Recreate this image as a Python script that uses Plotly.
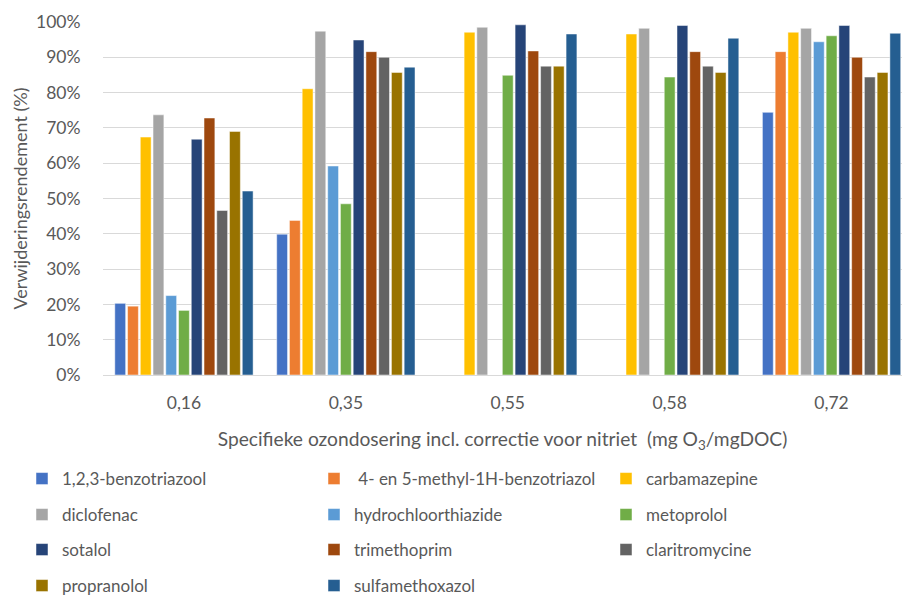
import plotly.graph_objects as go

# Ozone dose categories (mg O3 / mg DOC, nitrite corrected)
doses = ["0,16", "0,35", "0,55", "0,58", "0,72"]

# Removal efficiency per compound (fraction), None = not measured
benzotriazool = [0.203, 0.399, None, None, 0.744]
methylbenzotriazol = [0.195, 0.438, None, None, 0.916]
carbamazepine = [0.674, 0.811, 0.971, 0.966, 0.971]
diclofenac = [0.737, 0.974, 0.985, 0.982, 0.982]
hydrochloorthiazide = [0.225, 0.592, None, None, 0.944]
metoprolol = [0.183, 0.485, 0.849, 0.844, 0.961]
sotalol = [0.668, 0.949, 0.992, 0.990, 0.990]
trimethoprim = [0.728, 0.916, 0.918, 0.916, 0.900]
claritromycine = [0.466, 0.900, 0.875, 0.875, 0.844]
propranolol = [0.690, 0.857, 0.875, 0.857, 0.857]
sulfamethoxazol = [0.521, 0.872, 0.966, 0.954, 0.968]

series = [
    ("1,2,3-benzotriazool", benzotriazool, "#4472C4"),
    (" 4- en 5-methyl-1H-benzotriazol", methylbenzotriazol, "#ED7D31"),
    ("carbamazepine", carbamazepine, "#FFC000"),
    ("diclofenac", diclofenac, "#A5A5A5"),
    ("hydrochloorthiazide", hydrochloorthiazide, "#5B9BD5"),
    ("metoprolol", metoprolol, "#70AD47"),
    ("sotalol", sotalol, "#264478"),
    ("trimethoprim", trimethoprim, "#9E480E"),
    ("claritromycine", claritromycine, "#636363"),
    ("propranolol", propranolol, "#997300"),
    ("sulfamethoxazol", sulfamethoxazol, "#255E91"),
]

FONT = "Lato, Open Sans, sans-serif"
TXT = "#595959"
W, H = 902, 595
L, R, T, B = 103, 0, 22, 220
PW, PH = W - L - R, H - T - B
BOTTOM = H - B

fig = go.Figure()
legends = ["legend", "legend2", "legend3", "legend4"]
for i, (name, vals, color) in enumerate(series):
    fig.add_trace(go.Bar(
        x=doses, y=vals, name=name,
        marker=dict(color=color, line=dict(color="rgba(255,255,255,0.6)", width=0.8)),
        legend=legends[i // 3],
    ))

# one horizontal legend per row, three entries each
legend_rows_px = [479, 515, 550, 586]
legend_common = dict(
    orientation="h", xref="paper", yref="paper",
    xanchor="left", yanchor="middle", x=(22 - L) / PW,
    entrywidth=247, entrywidthmode="pixels",
    font=dict(family=FONT, size=17, color=TXT),
    bgcolor="rgba(0,0,0,0)", itemwidth=30, traceorder="normal",
)
legend_layout = {}
for key, py in zip(legends, legend_rows_px):
    legend_layout[key] = dict(legend_common, y=-(py - BOTTOM) / PH)

fig.update_layout(
    width=W, height=H,
    margin=dict(l=L, r=R, t=T, b=B, autoexpand=False),
    paper_bgcolor="white", plot_bgcolor="white",
    barmode="group", bargap=0.134, bargroupgap=0.15,
    font=dict(family=FONT, color=TXT, size=17),
    xaxis=dict(
        type="category", range=[-0.5, 4.435],
        tickfont=dict(family=FONT, size=17.5, color=TXT),
        showgrid=False, showline=True, linecolor="#D9D9D9", linewidth=1,
        ticks="", ticklabelstandoff=12,
        title=dict(
            text="Specifieke ozondosering incl. correctie voor nitriet  (mg O<sub>3</sub>/mgDOC)",
            font=dict(family=FONT, size=19.2, color=TXT), standoff=20,
        ),
    ),
    yaxis=dict(
        range=[0, 1.0], dtick=0.1, tickformat=".0%",
        tickfont=dict(family=FONT, size=17.5, color=TXT),
        showgrid=True, gridcolor="#D9D9D9", gridwidth=1,
        zeroline=False, showline=False, ticks="outside", ticklen=14,
        tickcolor="rgba(0,0,0,0)", ticklabelstandoff=4,
        title=dict(text="Verwijderingsrendement (%)",
                   font=dict(family=FONT, size=18, color=TXT), standoff=3),
    ),
    **legend_layout,
)

fig.write_html("out.html")
